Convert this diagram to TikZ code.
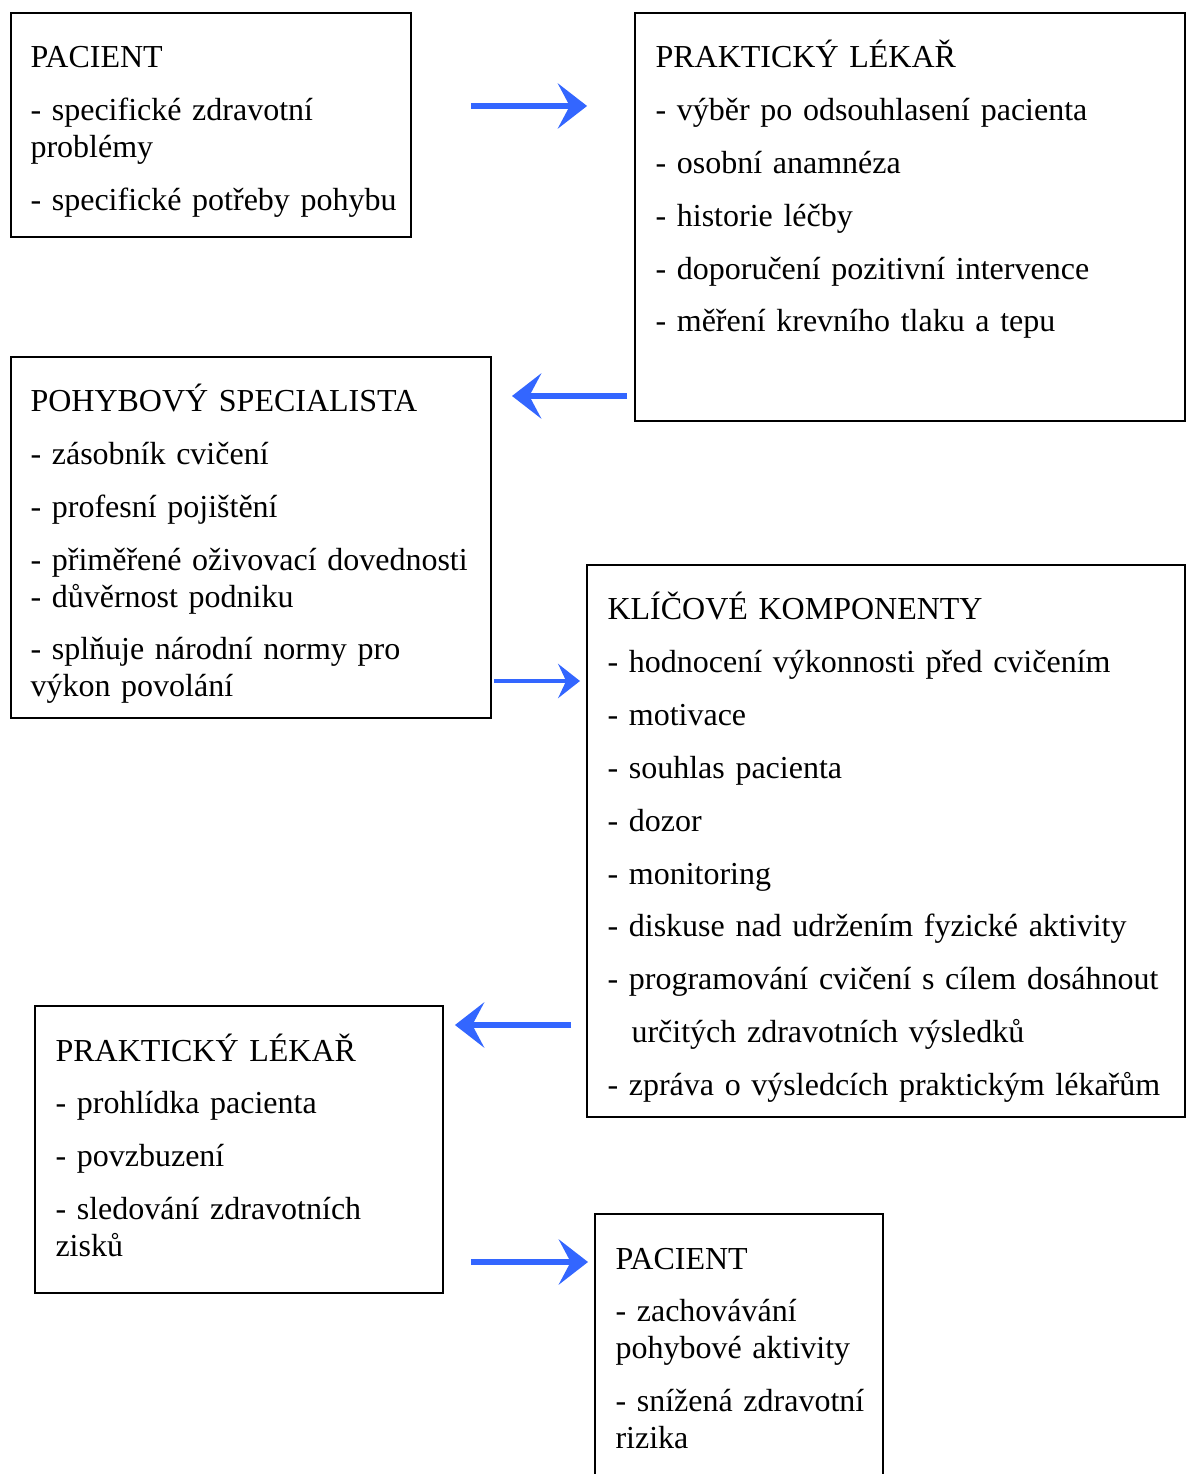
\documentclass[tikz,border=0pt]{standalone}
\usepackage{fontspec}
\setmainfont{Liberation Serif}
\usepackage{tikz}
\usetikzlibrary{arrows.meta,positioning}
\definecolor{arrowblue}{RGB}{51,102,255}
\newcommand\boxfont{\fontsize{12}{13.8}\selectfont}

\begin{document}
\begin{tikzpicture}[x=0.375pt,y=-0.375pt,
    box/.style={draw,line width=0.75pt,inner sep=0pt,anchor=north west},
    txt/.style={inner sep=0pt,anchor=base west,text width=215pt,align=left,
                font=\boxfont},
    flow/.style={draw=arrowblue,line width=2.25pt,
                 -{Stealth[length=11pt,width=17pt,inset=4.5pt,fill=arrowblue]}},
    thinflow/.style={draw=arrowblue,line width=1.5pt,
                 -{Stealth[length=8.2pt,width=12.8pt,inset=3pt,fill=arrowblue]}}]
  \useasboundingbox (0,0) rectangle (1186,1474);

  % boxes
  \node[box,minimum width=150pt,minimum height=84pt]       (pac1) at (10,12)   {};
  \node[box,minimum width=206.25pt,minimum height=153pt]   (lek1) at (634,12)  {};
  \node[box,minimum width=180pt,minimum height=135.4pt]    (spec) at (10,356)  {};
  \node[box,minimum width=224.25pt,minimum height=207pt]   (klic) at (586,564) {};
  \node[box,minimum width=153pt,minimum height=107.6pt]    (lek2) at (34,1005) {};
  \node[box,minimum width=108pt,minimum height=115pt]      (pac2) at (594,1213) {};

  % texts
  \node[txt] (pac1t) at ([shift={(20,56)}]pac1.north west)
    {PACIENT\\[6pt]
     - specifické zdravotní\\ problémy\\[6pt]
     - specifické potřeby pohybu};
  \node[txt] (lek1t) at ([shift={(21,56)}]lek1.north west)
    {PRAKTICKÝ LÉKAŘ\\[6pt]
     - výběr po odsouhlasení pacienta\\[6pt]
     - osobní anamnéza\\[6pt]
     - historie léčby\\[6pt]
     - doporučení pozitivní intervence\\[6pt]
     - měření krevního tlaku a tepu};
  \node[txt] (spect) at ([shift={(20,56)}]spec.north west)
    {POHYBOVÝ SPECIALISTA\\[6pt]
     - zásobník cvičení\\[6pt]
     - profesní pojištění\\[6pt]
     - přiměřené oživovací dovednosti\\
     - důvěrnost podniku\\[6pt]
     - splňuje národní normy pro\\ výkon povolání};
  \node[txt] (klict) at ([shift={(21,56)}]klic.north west)
    {KLÍČOVÉ KOMPONENTY\\[6pt]
     - hodnocení výkonnosti před cvičením\\[6pt]
     - motivace\\[6pt]
     - souhlas pacienta\\[6pt]
     - dozor\\[6pt]
     - monitoring\\[6pt]
     - diskuse nad udržením fyzické aktivity\\[6pt]
     - programování cvičení s cílem dosáhnout\\[6pt]
     \hspace*{9pt}určitých zdravotních výsledků\\[6pt]
     - zpráva o výsledcích praktickým lékařům};
  \node[txt] (lek2t) at ([shift={(21,56)}]lek2.north west)
    {PRAKTICKÝ LÉKAŘ\\[6pt]
     - prohlídka pacienta\\[6pt]
     - povzbuzení\\[6pt]
     - sledování zdravotních\\ zisků};
  \node[txt] (pac2t) at ([shift={(21,56)}]pac2.north west)
    {PACIENT\\[6pt]
     - zachovávání\\ pohybové aktivity\\[6pt]
     - snížená zdravotní\\ rizika};

  % arrows
  \draw[flow,shorten <=22.1pt,shorten >=17.6pt]
    ([shift={(0,94)}]pac1.north east) -- ([shift={(0,94)}]lek1.north west);
  \draw[flow,shorten <=2.6pt,shorten >=7.5pt]
    ([shift={(0,384)}]lek1.north west) -- ([shift={(0,40)}]spec.north east);
  \draw[thinflow,shorten <=0.75pt,shorten >=2.25pt]
    ([shift={(0,325)}]spec.north east) -- ([shift={(0,117)}]klic.north west);
  \draw[flow,shorten <=5.6pt,shorten >=4.1pt]
    ([shift={(0,461)}]klic.north west) -- ([shift={(0,20)}]lek2.north east);
  \draw[flow,shorten <=10.1pt,shorten >=2.25pt]
    ([shift={(0,257)}]lek2.north east) -- ([shift={(0,49)}]pac2.north west);
\end{tikzpicture}
\end{document}
